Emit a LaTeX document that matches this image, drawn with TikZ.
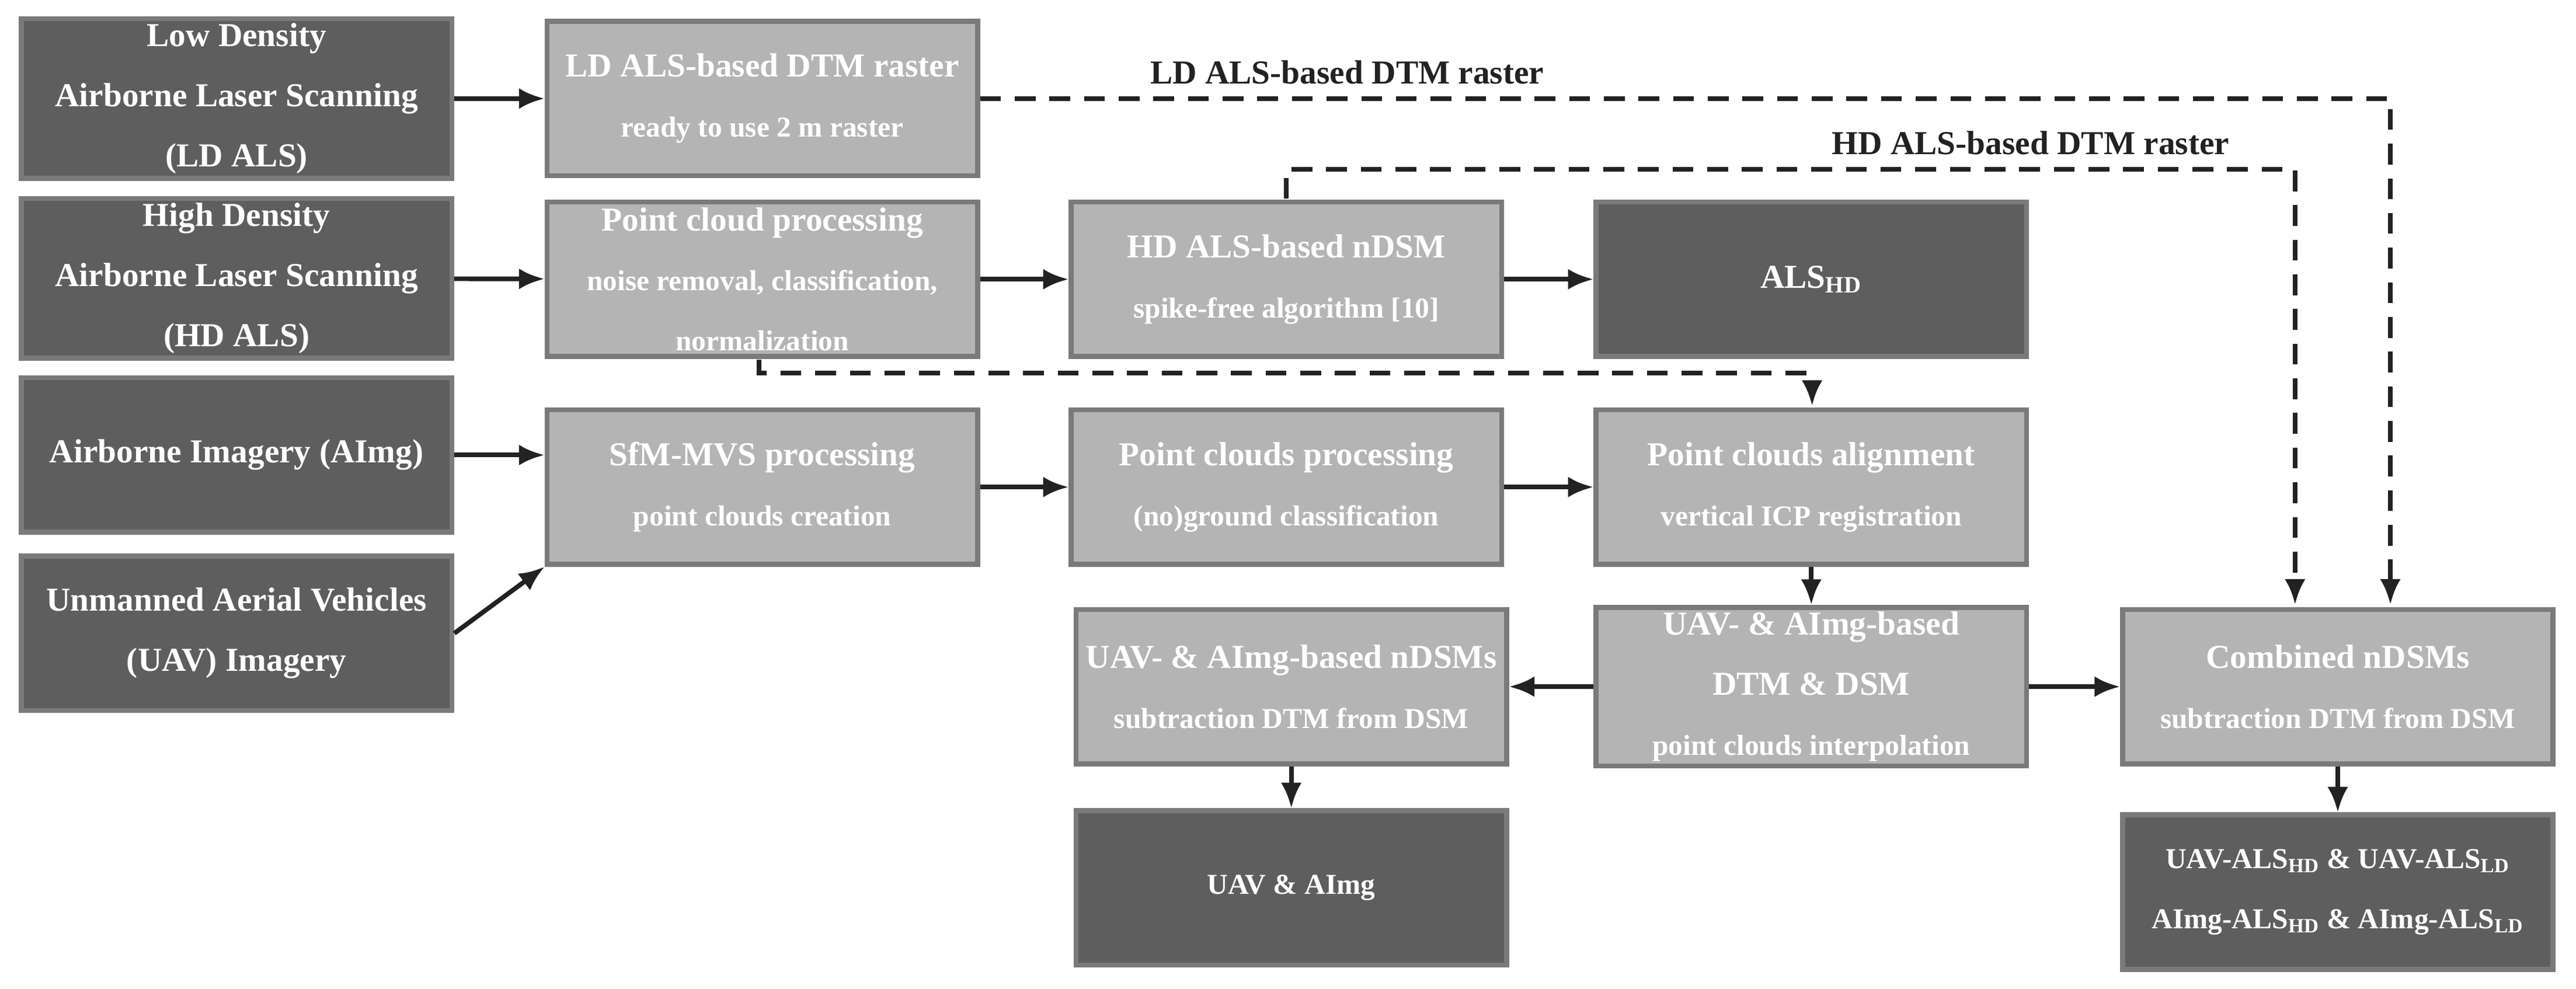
\documentclass[tikz,border=0pt]{standalone}
\usepackage{fontspec}
\setmainfont{Liberation Serif}
\usetikzlibrary{arrows.meta}
\definecolor{dk}{HTML}{5E5E5E}
\definecolor{lt}{HTML}{B4B4B4}
\definecolor{bd}{HTML}{7A7A7A}
\definecolor{ar}{HTML}{222222}
\newcommand{\ttl}[1]{{\fontsize{14.5}{26}\selectfont #1}}
\newcommand{\sub}[1]{{\fontsize{12.5}{26}\selectfont #1}}
\begin{document}
\begin{tikzpicture}[x=0.025cm,y=-0.025cm,
 box/.style={draw=bd,line width=2.2pt,minimum width=6.55cm,minimum height=2.35cm,inner sep=2pt,align=center,text=white,font=\fontsize{14.5}{26}\selectfont\bfseries},
 dark/.style={box,fill=dk},
 light/.style={box,fill=lt},
 arr/.style={draw=ar,line width=2pt,-{Latex[length=11pt,width=9pt]}},
 dsh/.style={arr,dash pattern=on 9pt off 6pt},
 lab/.style={font=\fontsize{14.5}{18}\selectfont\bfseries,text=ar,inner sep=1pt}]
\useasboundingbox[fill=white] (0,0) rectangle (1568,602);
% column 1
\node[dark] (ld) at (144,60) {Low Density\\Airborne Laser Scanning\\(LD ALS)};
\node[dark] (hd) at (144,169.5) {High Density\\Airborne Laser Scanning\\(HD ALS)};
\node[dark] (aimg) at (144,277) {Airborne Imagery (AImg)};
\node[dark] (uav) at (144,385.5) {Unmanned Aerial Vehicles\\(UAV) Imagery};
% column 2
\node[light] (ldr) at (464,60) {LD ALS-based DTM raster\\\sub{ready to use 2 m raster}};
\node[light] (pcp) at (464,170) {Point cloud processing\\\sub{noise removal, classification,}\\\sub{normalization}};
\node[light] (sfm) at (464,296.5) {SfM-MVS processing\\\sub{point clouds creation}};
% column 3
\node[light] (hdn) at (783,170) {HD ALS-based nDSM\\\sub{spike-free algorithm [10]}};
\node[light] (pcp2) at (783,296.5) {Point clouds processing\\\sub{(no)ground classification}};
\node[light] (un) at (786,418) {UAV- \& AImg-based nDSMs\\\sub{subtraction DTM from DSM}};
\node[dark] (ua) at (786,540.5) {\sub{UAV \& AImg}};
% column 4
\node[dark] (als) at (1102.5,170) {ALS\textsubscript{HD}};
\node[light] (al) at (1102.5,296.5) {Point clouds alignment\\\sub{vertical ICP registration}};
\node[light] (dd) at (1102.5,418) {UAV- \& AImg-based\\DTM \& DSM\\\sub{point clouds interpolation}};
% column 5
\node[light] (cb) at (1423,418) {Combined nDSMs\\\sub{subtraction DTM from DSM}};
\node[dark] (fin) at (1423,543) {\sub{UAV-ALS\textsubscript{HD} \& UAV-ALS\textsubscript{LD}}\\\sub{AImg-ALS\textsubscript{HD} \& AImg-ALS\textsubscript{LD}}};
% solid arrows
\draw[arr] (ld) -- (ldr);
\draw[arr] (hd) -- (pcp);
\draw[arr] (aimg.east) -- (aimg.east-|sfm.west);
\draw[arr] (uav.east) -- (sfm.south west);
\draw[arr] (pcp) -- (hdn);
\draw[arr] (hdn) -- (als);
\draw[arr] (sfm) -- (pcp2);
\draw[arr] (pcp2) -- (al);
\draw[arr] (al) -- (dd);
\draw[arr] (dd) -- (un);
\draw[arr] (dd) -- (cb);
\draw[arr] (un) -- (ua);
\draw[arr] (cb) -- (fin);
% dashed
\draw[dsh] (ldr.east) -- (1455,60) -- (1455,368);
\node[lab] (l1) at (820,44) {LD ALS-based DTM raster};
\draw[dsh] (783,121) -- (783,103) -- (1397,103) -- (1397,368);
\node[lab] (l2) at (1236,87) {HD ALS-based DTM raster};
\draw[dsh] (462,219) -- (462,227) -- (1103,227) -- (1103,247);
\end{tikzpicture}
\end{document}
